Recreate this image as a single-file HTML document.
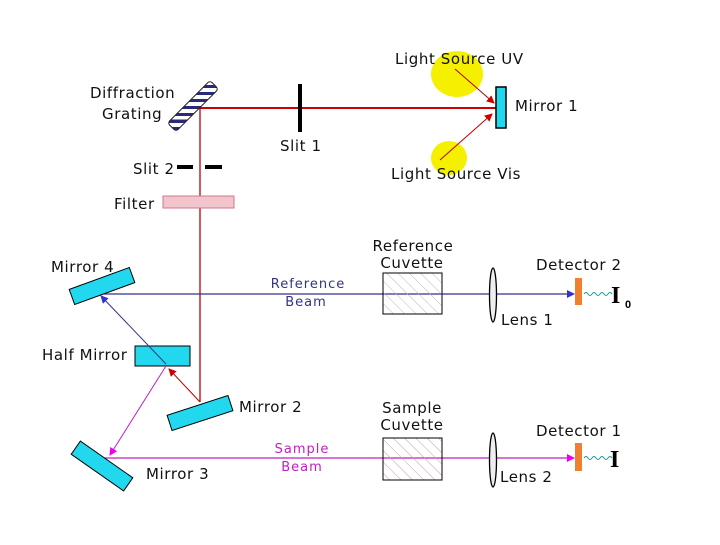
<!DOCTYPE html>
<html><head><meta charset="utf-8"><style>
body{margin:0;background:#fff}
svg text{font-family:"DejaVu Sans","Liberation Sans",sans-serif;font-size:15px;letter-spacing:0.6px;fill:#111}
</style></head><body>
<svg width="720" height="540" viewBox="0 0 720 540" xmlns="http://www.w3.org/2000/svg">
<defs>
<pattern id="hg" width="7" height="7" patternUnits="userSpaceOnUse" patternTransform="rotate(45)"><rect width="7" height="7" fill="#fff"/><rect width="7" height="3" fill="#2a2a7a"/></pattern>
<pattern id="hc" width="8" height="8" patternUnits="userSpaceOnUse" patternTransform="rotate(-45)"><line x1="0" y1="0" x2="0" y2="8" stroke="#bbb" stroke-width="1"/></pattern>
<pattern id="hs" width="8" height="8" patternUnits="userSpaceOnUse" patternTransform="rotate(-45)"><line x1="0" y1="0" x2="0" y2="8" stroke="#c9a0a8" stroke-width="1"/></pattern>
<marker id="ar" markerWidth="8" markerHeight="8" refX="7" refY="4" orient="auto" markerUnits="userSpaceOnUse"><path d="M0,0 L8,4 L0,8z" fill="#c00"/></marker>
<marker id="ab" markerWidth="8" markerHeight="8" refX="7" refY="4" orient="auto" markerUnits="userSpaceOnUse"><path d="M0,0 L8,4 L0,8z" fill="#33c"/></marker>
<marker id="am" markerWidth="8" markerHeight="8" refX="7" refY="4" orient="auto" markerUnits="userSpaceOnUse"><path d="M0,0 L8,4 L0,8z" fill="#e0e"/></marker>
</defs>
<ellipse cx="457" cy="74" rx="26" ry="23" fill="#f5f000"/>
<ellipse cx="449" cy="158" rx="18" ry="17" fill="#f5f000"/>
<text x="395" y="64">Light Source UV</text>
<text x="391" y="179">Light Source Vis</text>
<line x1="455" y1="69" x2="494" y2="103" stroke="#b00" stroke-width="1" marker-end="url(#ar)"/>
<line x1="440" y1="160" x2="492" y2="114" stroke="#b00" stroke-width="1" marker-end="url(#ar)"/>
<line x1="200" y1="108" x2="496" y2="108" stroke="#c00" stroke-width="2"/>
<line x1="200" y1="108" x2="200" y2="402" stroke="#b00" stroke-width="1.3"/>
<rect x="496" y="87" width="10" height="41" fill="#22d8ee" stroke="#000" stroke-width="1.5"/>
<text x="515" y="111">Mirror 1</text>
<g transform="translate(193,106) rotate(-45)"><rect x="-30" y="-6" width="60" height="12" rx="3" fill="url(#hg)" stroke="#222" stroke-width="1"/></g>
<text x="90" y="98">Diffraction</text>
<text x="102" y="119">Grating</text>
<rect x="298" y="84" width="4" height="48" fill="#000"/>
<text x="280" y="151">Slit 1</text>
<rect x="177" y="165" width="16" height="4" fill="#000"/>
<rect x="205" y="165" width="17" height="4" fill="#000"/>
<text x="133" y="174">Slit 2</text>
<rect x="163" y="196" width="71" height="12" fill="#f2c4cc" stroke="#d07888" stroke-width="1"/>
<text x="114" y="209">Filter</text>
<line x1="104" y1="294" x2="574" y2="294" stroke="#33338a" stroke-width="1.2" marker-end="url(#ab)"/>
<line x1="104" y1="458" x2="574" y2="458" stroke="#c020c0" stroke-width="1.2" marker-end="url(#am)"/>
<g transform="translate(102,286) rotate(-20)"><rect x="-32" y="-8" width="64" height="16" fill="#22d8ee" stroke="#000"/></g>
<text x="51" y="272">Mirror 4</text>
<rect x="135" y="346" width="55" height="20" fill="#22d8ee" stroke="#000"/>
<text x="42" y="360">Half Mirror</text>
<g transform="translate(200,413) rotate(-18)"><rect x="-32" y="-8" width="64" height="16" fill="#22d8ee" stroke="#000"/></g>
<text x="239" y="412">Mirror 2</text>
<g transform="translate(102,466) rotate(35)"><rect x="-32" y="-8" width="64" height="16" fill="#22d8ee" stroke="#000"/></g>
<text x="146" y="479">Mirror 3</text>
<line x1="200" y1="402" x2="169" y2="369" stroke="#b00" stroke-width="1" marker-end="url(#ar)"/>
<line x1="166" y1="364" x2="101" y2="296" stroke="#33338a" stroke-width="1" marker-end="url(#ab)"/>
<line x1="166" y1="366" x2="110" y2="455" stroke="#c020c0" stroke-width="1" marker-end="url(#am)"/>
<text x="308" y="288" text-anchor="middle" style="font-size:13px;letter-spacing:1px;fill:#33338a">Reference</text>
<text x="306" y="306" text-anchor="middle" style="font-size:13px;letter-spacing:1px;fill:#33338a">Beam</text>
<text x="302" y="453" text-anchor="middle" style="font-size:13px;letter-spacing:1px;fill:#c020c0">Sample</text>
<text x="302" y="471" text-anchor="middle" style="font-size:13px;letter-spacing:1px;fill:#c020c0">Beam</text>
<rect x="383" y="273" width="59" height="41" fill="url(#hc)" stroke="#000"/>
<text x="413" y="251" text-anchor="middle">Reference</text>
<text x="412" y="268" text-anchor="middle">Cuvette</text>
<rect x="383" y="438" width="59" height="42" fill="url(#hs)" stroke="#000"/>
<text x="412" y="413" text-anchor="middle">Sample</text>
<text x="412" y="430" text-anchor="middle">Cuvette</text>
<ellipse cx="493" cy="295" rx="3.5" ry="27" fill="#eee" stroke="#000" stroke-width="1.3"/>
<ellipse cx="493" cy="460" rx="3.5" ry="27" fill="#eee" stroke="#000" stroke-width="1.3"/>
<text x="501" y="325">Lens 1</text>
<text x="500" y="482">Lens 2</text>
<rect x="575" y="278" width="7" height="27" fill="#f08030"/>
<rect x="575" y="443" width="7" height="28" fill="#f08030"/>
<path d="M584,294 q2,-3 4,0 t4,0 t4,0 t4,0 t4,0 t4,0 t4,0" fill="none" stroke="#1a9a9a" stroke-width="1"/>
<path d="M584,458 q2,-3 4,0 t4,0 t4,0 t4,0 t4,0 t4,0 t4,0" fill="none" stroke="#1a9a9a" stroke-width="1"/>
<text x="536" y="270">Detector 2</text>
<text x="536" y="436">Detector 1</text>
<text x="611" y="303" style="font-family:'Liberation Serif',serif;font-size:24px;font-weight:bold;letter-spacing:0;fill:#000">I</text>
<text x="625" y="308" style="font-family:'Liberation Sans',sans-serif;font-size:11px;font-weight:bold;letter-spacing:0;fill:#000">0</text>
<text x="610" y="467" style="font-family:'Liberation Serif',serif;font-size:24px;font-weight:bold;letter-spacing:0;fill:#000">I</text>
</svg>
</body></html>
